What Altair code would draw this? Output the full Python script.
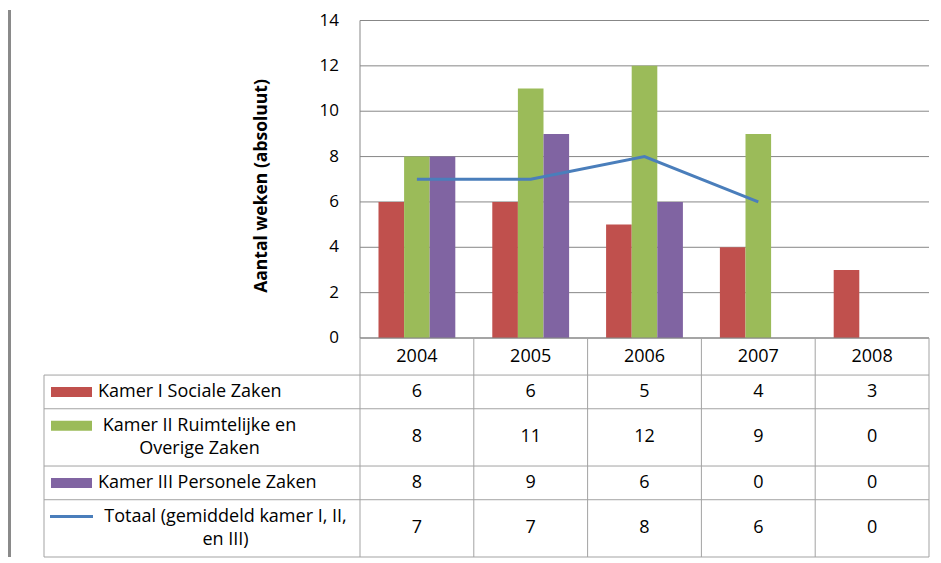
import altair as alt
import pandas as pd

# ---------------- data ----------------
years = ["2004", "2005", "2006", "2007", "2008"]
kamer_1 = [6, 6, 5, 4, 3]
kamer_2 = [8, 11, 12, 9, 0]
kamer_3 = [8, 9, 6, 0, 0]
totaal = [7, 7, 8, 6, 0]
series_labels = [
    "Kamer I Sociale Zaken",
    "Kamer II Ruimtelijke en\nOverige Zaken",
    "Kamer III Personele Zaken",
    "Totaal (gemiddeld kamer I, II,\nen III)",
]
y_ticks = [0, 2, 4, 6, 8, 10, 12, 14]
y_title = "Aantal weken (absoluut)"

# ---------------- style / layout ----------------
bar_colors = ["#c0504d", "#9bbb59", "#8064a2"]
line_color = "#4a7ebb"
grid_color = "#878787"
table_color = "#a3a3a3"
page_bar_color = "#8a8a8a"
FONT = "Open Sans"
FS = 18

COL_PX = 113.8
LEFT_PX = 352.0
X_MIN = -LEFT_PX / COL_PX
LEG_LEFT = -(LEFT_PX - 36) / COL_PX
N = len(years)
TOTAL_W = 921
TOP_H = 328
PLOT_H = 317.5
Y_MAX = 14 * TOP_H / PLOT_H
TABLE_H = 219
row_bounds = [0, 1.1, 2.1, 3.8, 4.8, 6.5]
ROW_UNIT = TABLE_H / row_bounds[-1]
LINE_PX = 23.5
BAR_W = 0.225


def px_to_unit(page_x):
    return (page_x - 360) / COL_PX


xscale = alt.Scale(domain=[X_MIN, N], nice=False, zero=False)
yscale = alt.Scale(domain=[0, Y_MAX], nice=False, zero=True)
tscale = alt.Scale(domain=[0, row_bounds[-1]], nice=False, zero=False, reverse=True)
cscale = alt.Scale(domain=series_labels[:3], range=bar_colors)

# ---------------- top: bars + line ----------------
series_values = [kamer_1, kamer_2, kamer_3]
bar_rows = []
for k, vals in enumerate(series_values):
    for i, v in enumerate(vals):
        x = i + 0.5 + (k - 1.5) * BAR_W
        bar_rows.append({"series": series_labels[k], "year": years[i],
                         "x": x, "x2": x + BAR_W, "value": v, "base": 0})
bars_df = pd.DataFrame(bar_rows)

line_df = pd.DataFrame({"year": years, "x": [i + 0.5 for i in range(N)], "value": totaal})
grid_df = pd.DataFrame({"tick": y_ticks, "x0": [0] * len(y_ticks), "x1": [N] * len(y_ticks),
                        "lx": [px_to_unit(339)] * len(y_ticks),
                        "label": [str(t) for t in y_ticks]})
yaxis_df = pd.DataFrame({"x": [0], "y0": [0], "y1": [14]})
title_df = pd.DataFrame({"x": [px_to_unit(261.5)], "y": [(336 - 184) / (PLOT_H / 14)], "text": [y_title]})
one_df = pd.DataFrame({"a": [0]})

grid = alt.Chart(grid_df).mark_rule(color=grid_color, strokeWidth=1).encode(
    x=alt.X("x0:Q", scale=xscale, axis=None),
    x2="x1:Q",
    y=alt.Y("tick:Q", scale=yscale, axis=None),
)
tick_labels = alt.Chart(grid_df).mark_text(
    align="right", baseline="middle", font=FONT, fontSize=17, color="#000").encode(
    x=alt.X("lx:Q", scale=xscale, axis=None),
    y=alt.Y("tick:Q", scale=yscale, axis=None),
    text="label:N",
)
y_title_mark = alt.Chart(title_df).mark_text(
    align="center", baseline="middle", angle=270, font=FONT, fontSize=17.5,
    fontWeight="bold", color="#000").encode(
    x=alt.X("x:Q", scale=xscale, axis=None),
    y=alt.Y("y:Q", scale=yscale, axis=None),
    text="text:N",
)
yline = alt.Chart(yaxis_df).mark_rule(color=grid_color, strokeWidth=1).encode(
    x=alt.X("x:Q", scale=xscale, axis=None),
    y=alt.Y("y0:Q", scale=yscale, axis=None),
    y2="y1:Q",
)
bars = alt.Chart(bars_df).mark_rect().encode(
    x=alt.X("x:Q", scale=xscale, axis=None),
    x2="x2:Q",
    y=alt.Y("value:Q", scale=yscale, axis=None),
    y2="base:Q",
    color=alt.Color("series:N", scale=cscale, legend=None),
)
line = alt.Chart(line_df).transform_filter("datum.value > 0").mark_line(
    color=line_color, strokeWidth=3).encode(
    x=alt.X("x:Q", scale=xscale, axis=None),
    y=alt.Y("value:Q", scale=yscale, axis=None),
)
page_bar_top = alt.Chart(one_df).mark_rule(color=page_bar_color, strokeWidth=3).encode(
    x=alt.value(1.5), y=alt.value(0), y2=alt.value(TOP_H))

top = alt.layer(grid, yline, bars, line, tick_labels, y_title_mark, page_bar_top).properties(
    width=TOTAL_W, height=TOP_H)

# ---------------- bottom: data table ----------------
hl = [{"y": row_bounds[0], "x0": 0, "x1": N, "c": "axis"}]
for b in row_bounds[1:]:
    hl.append({"y": b, "x0": LEG_LEFT, "x1": N, "c": "table"})
hlines_df = pd.DataFrame(hl)
vl = [{"x": LEG_LEFT, "y0": row_bounds[1], "y1": row_bounds[-1]}]
for i in range(N + 1):
    vl.append({"x": i, "y0": row_bounds[0], "y1": row_bounds[-1]})
vlines_df = pd.DataFrame(vl)


def row_center(r):
    return (row_bounds[r] + row_bounds[r + 1]) / 2


header_df = pd.DataFrame({"x": [i + 0.5 for i in range(N)], "y": [row_center(0)] * N, "text": years})
all_series = [kamer_1, kamer_2, kamer_3, totaal]
val_rows = []
for r, vals in enumerate(all_series):
    for i, v in enumerate(vals):
        val_rows.append({"x": i + 0.5, "y": row_center(r + 1), "text": str(v)})
values_df = pd.DataFrame(val_rows)

multi = ["\n" in s for s in series_labels]
first_line_y = [row_center(r + 1) - (LINE_PX / 2 / ROW_UNIT if multi[r] else 0) for r in range(4)]
KEY_X0 = px_to_unit(51)
KEY_X1 = px_to_unit(92)
KEY_HALF = 5 / ROW_UNIT
key_df = pd.DataFrame({
    "series": series_labels[:3],
    "x0": [KEY_X0] * 3, "x1": [KEY_X1] * 3,
    "y0": [first_line_y[r] - KEY_HALF for r in range(3)],
    "y1": [first_line_y[r] + KEY_HALF for r in range(3)],
})
line_key_df = pd.DataFrame({"x0": [px_to_unit(50)], "x1": [px_to_unit(93)], "y": [first_line_y[3]]})

label_left_df = pd.DataFrame({
    "x": [px_to_unit(98)] * 2,
    "y": [first_line_y[0], first_line_y[2]],
    "text": [series_labels[0], series_labels[2]],
})
label_center_df = pd.DataFrame({
    "x": [px_to_unit(199.5), px_to_unit(225.5)],
    "y": [first_line_y[1], first_line_y[3]],
    "text": [series_labels[1], series_labels[3]],
})

hlines = alt.Chart(hlines_df).mark_rule(strokeWidth=1).encode(
    x=alt.X("x0:Q", scale=xscale, axis=None), x2="x1:Q",
    y=alt.Y("y:Q", scale=tscale, axis=None),
    color=alt.Color("c:N", scale=alt.Scale(domain=["axis", "table"], range=[grid_color, table_color]), legend=None),
)
vlines = alt.Chart(vlines_df).mark_rule(strokeWidth=1, color=table_color).encode(
    x=alt.X("x:Q", scale=xscale, axis=None),
    y=alt.Y("y0:Q", scale=tscale, axis=None), y2="y1:Q",
)
txt_kw = dict(font=FONT, fontSize=FS, color="#000", baseline="middle", lineBreak="\n", lineHeight=LINE_PX)
header = alt.Chart(header_df).mark_text(align="center", **txt_kw).encode(
    x=alt.X("x:Q", scale=xscale, axis=None), y=alt.Y("y:Q", scale=tscale, axis=None), text="text:N")
values = alt.Chart(values_df).mark_text(align="center", **txt_kw).encode(
    x=alt.X("x:Q", scale=xscale, axis=None), y=alt.Y("y:Q", scale=tscale, axis=None), text="text:N")
keys = alt.Chart(key_df).mark_rect().encode(
    x=alt.X("x0:Q", scale=xscale, axis=None), x2="x1:Q",
    y=alt.Y("y0:Q", scale=tscale, axis=None), y2="y1:Q",
    color=alt.Color("series:N", scale=cscale, legend=None),
)
line_key = alt.Chart(line_key_df).mark_rule(color=line_color, strokeWidth=3).encode(
    x=alt.X("x0:Q", scale=xscale, axis=None), x2="x1:Q",
    y=alt.Y("y:Q", scale=tscale, axis=None),
)
labels_left = alt.Chart(label_left_df).mark_text(align="left", **txt_kw).encode(
    x=alt.X("x:Q", scale=xscale, axis=None), y=alt.Y("y:Q", scale=tscale, axis=None), text="text:N")
labels_center = alt.Chart(label_center_df).mark_text(align="center", **txt_kw).encode(
    x=alt.X("x:Q", scale=xscale, axis=None), y=alt.Y("y:Q", scale=tscale, axis=None), text="text:N")
page_bar_bottom = alt.Chart(one_df).mark_rule(color=page_bar_color, strokeWidth=3).encode(
    x=alt.value(1.5), y=alt.value(0), y2=alt.value(TABLE_H))

table = alt.layer(hlines, vlines, keys, line_key, header, values, labels_left, labels_center,
                  page_bar_bottom).resolve_scale(color="independent").properties(width=TOTAL_W, height=TABLE_H)

chart = alt.vconcat(top, table, spacing=0, bounds="flush").properties(
    padding={"left": 0, "top": 0, "right": 0, "bottom": 0},
    background="white",
).configure(font=FONT).configure_view(strokeWidth=0, stroke="transparent")

chart.save("out.html", embed_options={"renderer": "svg", "actions": False})
